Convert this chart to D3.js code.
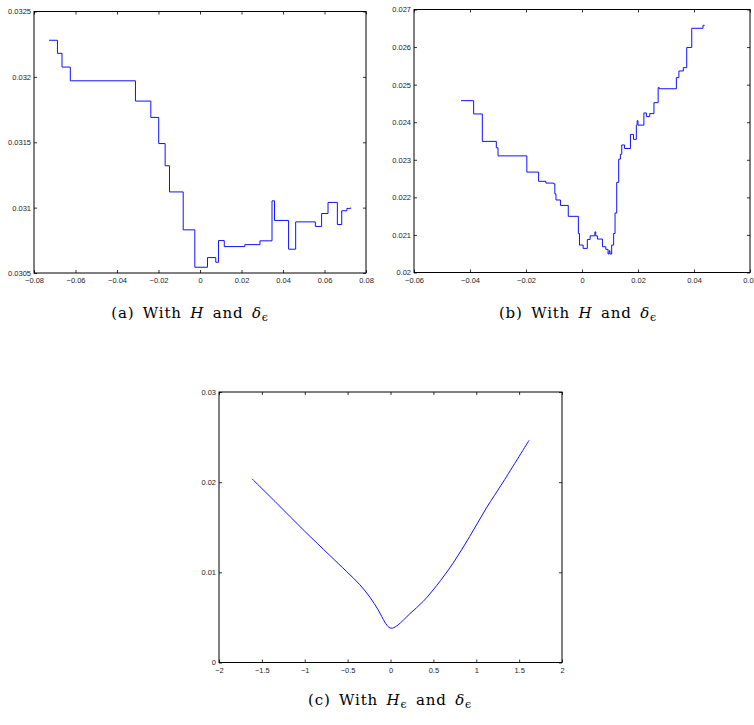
<!DOCTYPE html>
<html>
<head>
<meta charset="utf-8">
<script src="https://cdn.jsdelivr.net/npm/d3@7"></script>
<style>
  body { margin: 0; background: #fff; }
  .tick-label { font-family: "Liberation Sans", Arial, sans-serif; font-size: 7.5px; fill: #222; }
  .caption { font-family: "DejaVu Serif", serif; font-size: 15px; word-spacing: 3px; letter-spacing: 0.8px; fill: #000; }
</style>
</head>
<body>
<div id="chart"></div>
<script>
// panel (a): step curve, x and y
var aX = [-0.0728, -0.0687, -0.0665, -0.0625, -0.0311, -0.0237, -0.0199, -0.0168, -0.0147, -0.0081,
          -0.0025, 0.0036, 0.0076, 0.0089, 0.0117, 0.0216, 0.0289, 0.0347, 0.0359, 0.0427,
          0.0461, 0.0556, 0.0586, 0.0617, 0.0662, 0.0683, 0.0708, 0.0726]
var aY = [0.03228, 0.03218, 0.032075, 0.03197, 0.031815, 0.03169, 0.03149, 0.03132, 0.03112, 0.03083,
          0.030544, 0.030618, 0.030582, 0.030748, 0.030702, 0.030717, 0.030746, 0.031052, 0.030902, 0.030682,
          0.030891, 0.030856, 0.030955, 0.03104, 0.030871, 0.030976, 0.030994, 0.031]
var aXTicks = [-0.08, -0.06, -0.04, -0.02, 0, 0.02, 0.04, 0.06, 0.08]
var aYTicks = [0.0305, 0.031, 0.0315, 0.032, 0.0325]

// panel (b)
var bX = [-0.0432, -0.0387, -0.0356, -0.0306, -0.0300, -0.0197, -0.0155, -0.0129, -0.0101, -0.0097,
          -0.0093, -0.0077, -0.0049, -0.0013, -0.0009, 0.0004, 0.0019, 0.0029, 0.0046, 0.0049,
          0.0055, 0.0073, 0.0085, 0.0093, 0.0097, 0.0100, 0.0106, 0.0113, 0.0118, 0.0124,
          0.0131, 0.0137, 0.0142, 0.0152, 0.0173, 0.0184, 0.0194, 0.0197, 0.0200, 0.0221,
          0.0230, 0.0242, 0.0257, 0.0272, 0.0276, 0.0337, 0.0346, 0.0362, 0.0374, 0.0392,
          0.0432, 0.0438]
var bY = [0.024573, 0.02422, 0.02349, 0.02332, 0.023104, 0.022673, 0.022427, 0.02238, 0.02236, 0.022093,
          0.02193, 0.021785, 0.021495, 0.021038, 0.02073, 0.020642, 0.02088, 0.020976, 0.021082, 0.020976,
          0.02089, 0.020686, 0.020616, 0.020493, 0.02058, 0.020493, 0.02073, 0.021038, 0.021583, 0.0224,
          0.023016, 0.023148, 0.023394, 0.0233, 0.023676, 0.023544, 0.023922, 0.02404, 0.023922, 0.024247,
          0.02415, 0.02423, 0.02452, 0.02492, 0.02489, 0.025188, 0.025364, 0.025452, 0.02599, 0.0265,
          0.026578, 0.026578]
var bXTicks = [-0.06, -0.04, -0.02, 0, 0.02, 0.04, 0.06]
var bYTicks = [0.02, 0.021, 0.022, 0.023, 0.024, 0.025, 0.026, 0.027]

// panel (c): smooth curve
var cX = [-1.616, -1.328, -1.006, -0.707, -0.513, -0.357, -0.241, -0.144, -0.066, -0.016,
          0.023, 0.089, 0.225, 0.381, 0.536, 0.73, 0.924, 1.118, 1.313, 1.616]
var cY = [0.02038, 0.01768, 0.01461, 0.01187, 0.0101, 0.00862, 0.00725, 0.00584, 0.00448, 0.00388,
          0.00381, 0.00418, 0.0054, 0.00677, 0.00851, 0.01102, 0.01398, 0.01713, 0.02001, 0.02464]
var cXTicks = [-2, -1.5, -1, -0.5, 0, 0.5, 1, 1.5, 2]
var cYTicks = [0, 0.01, 0.02, 0.03]

var svg = d3.select("#chart")
    .append("svg")
        .attr("width", 754)
        .attr("height", 725)

function fmt(v){
    return String(+v.toFixed(6)).replace("-", "\u2212")
}

function panel(config){
    var x = d3.scaleLinear()
        .domain(d3.extent(config.xTicks))
        .range([config.left, config.right])
    var y = d3.scaleLinear()
        .domain(d3.extent(config.yTicks))
        .range([config.bottom, config.top])
    var tl = 3

    var g = svg.append("g")

    // inward ticks on all four sides, like a matlab box
    var xAxisB = d3.axisBottom(x).tickValues(config.xTicks).tickSizeInner(-tl).tickSizeOuter(0).tickPadding(5).tickFormat(fmt)
    var xAxisT = d3.axisTop(x).tickValues(config.xTicks).tickSizeInner(-tl).tickSizeOuter(0).tickFormat("")
    var yAxisL = d3.axisLeft(y).tickValues(config.yTicks).tickSizeInner(-tl).tickSizeOuter(0).tickPadding(3).tickFormat(fmt)
    var yAxisR = d3.axisRight(y).tickValues(config.yTicks).tickSizeInner(-tl).tickSizeOuter(0).tickFormat("")

    g.append("g").attr("transform", "translate(0," + config.bottom + ")").call(xAxisB)
    g.append("g").attr("transform", "translate(0," + config.top + ")").call(xAxisT)
    g.append("g").attr("transform", "translate(" + config.left + ",0)").call(yAxisL)
    g.append("g").attr("transform", "translate(" + config.right + ",0)").call(yAxisR)

    g.selectAll(".domain").remove()
    g.selectAll(".tick line").attr("stroke", "#000").attr("stroke-width", 0.8)
    g.selectAll(".tick text").attr("class", "tick-label").attr("fill", null)

    g.append("rect")
        .attr("x", config.left)
        .attr("y", config.top)
        .attr("width", config.right - config.left)
        .attr("height", config.bottom - config.top)
        .attr("fill", "none")
        .attr("stroke", "#000")
        .attr("stroke-width", 1)

    var pts = config.xs.map(function(d, i){ return [d, config.ys[i]] })
    var line = d3.line()
        .x(function(d){ return x(d[0]) })
        .y(function(d){ return y(d[1]) })
        .curve(config.curve)

    g.append("path")
        .datum(pts)
        .attr("d", line)
        .attr("fill", "none")
        .attr("stroke", "#1010ff")
        .attr("stroke-width", 1)

    var cap = g.append("text")
        .attr("class", "caption")
        .attr("x", config.capX)
        .attr("y", config.capY)
        .attr("text-anchor", "middle")
    cap.append("tspan").text(config.label + " With ")
    cap.append("tspan").attr("font-style", "italic").text("H")
    if (config.hSub) cap.append("tspan").attr("font-size", "11px").attr("dy", 3).text("\u03f5")
    cap.append("tspan").attr("dy", config.hSub ? -3 : 0).text(" and ")
    cap.append("tspan").attr("font-style", "italic").text("\u03b4")
    cap.append("tspan").attr("font-size", "11px").attr("dy", 3).text("\u03f5")
}

panel({ xs: aX, ys: aY, xTicks: aXTicks, yTicks: aYTicks, curve: d3.curveStepAfter,
        left: 34, right: 366, top: 11.5, bottom: 273, label: "(a)", capX: 190, capY: 318, hSub: false })
panel({ xs: bX, ys: bY, xTicks: bXTicks, yTicks: bYTicks, curve: d3.curveStepAfter,
        left: 414, right: 750, top: 9.5, bottom: 272.5, label: "(b)", capX: 578, capY: 318, hSub: false })
panel({ xs: cX, ys: cY, xTicks: cXTicks, yTicks: cYTicks, curve: d3.curveCatmullRom.alpha(0.5),
        left: 219, right: 562, top: 392, bottom: 662.5, label: "(c)", capX: 390, capY: 705, hSub: true })
</script>
</body>
</html>
